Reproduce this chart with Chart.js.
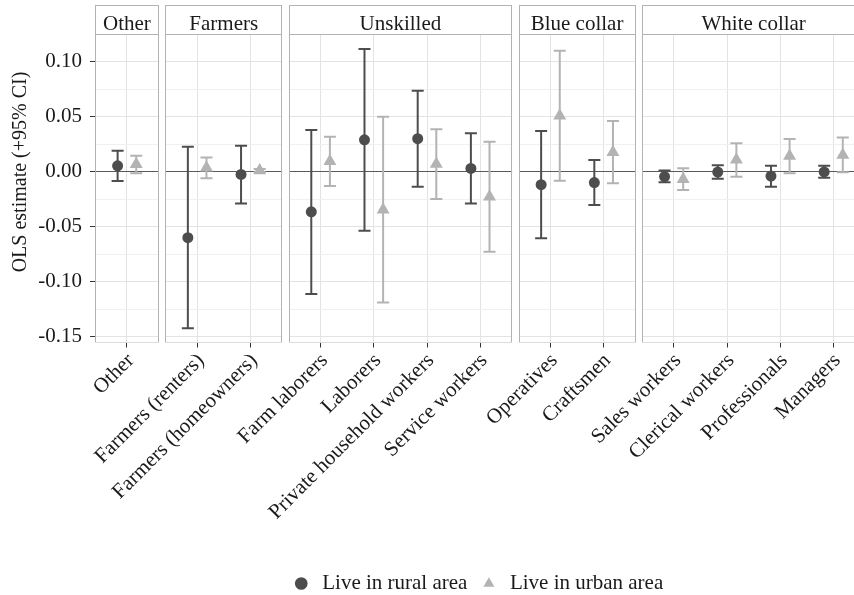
<!DOCTYPE html>
<html>
<head>
<meta charset="utf-8">
<script src="https://cdn.jsdelivr.net/npm/chart.js@4.4.0/dist/chart.umd.min.js"></script>
<style>
  html, body { margin: 0; padding: 0; background: #ffffff; overflow: hidden; }
  #wrap { position: relative; width: 854px; height: 595px; overflow: hidden; background: #ffffff; }
  #wrap canvas { position: absolute; }
</style>
</head>
<body>
<div id="wrap"></div>
<script>
// ---------------- data ----------------
const categories = [
  "Other",
  "Farmers (renters)", "Farmers (homeowners)",
  "Farm laborers", "Laborers", "Private household workers", "Service workers",
  "Operatives", "Craftsmen",
  "Sales workers", "Clerical workers", "Professionals", "Managers"
];
const panels = ["Other", "Farmers", "Unskilled", "Blue collar", "White collar"];
const categoryPanel = [0, 1, 1, 2, 2, 2, 2, 3, 3, 4, 4, 4, 4];
const seriesNames = ["Live in rural area", "Live in urban area"];

const ruralEst  = [0.0053, -0.0600, -0.0025, -0.0365, 0.0290, 0.0300, 0.0030, -0.0118, -0.0099, -0.0044, -0.0003, -0.0040, -0.0002];
const ruralLow  = [-0.0085, -0.1424, -0.0288, -0.1112, -0.0536, -0.0136, -0.0288, -0.0606, -0.0303, -0.0097, -0.0064, -0.0136, -0.0055];
const ruralHigh = [0.0190, 0.0227, 0.0236, 0.0380, 0.1115, 0.0736, 0.0349, 0.0370, 0.0106, 0.0010, 0.0058, 0.0055, 0.0055];

const urbanEst  = [0.0068, 0.0035, 0.0010, 0.0094, -0.0345, 0.0069, -0.0227, 0.0509, 0.0178, -0.0068, 0.0108, 0.0143, 0.0153];
const urbanLow  = [-0.0015, -0.0060, -0.0005, -0.0130, -0.1190, -0.0248, -0.0727, -0.0082, -0.0106, -0.0166, -0.0045, -0.0015, -0.0005];
const urbanHigh = [0.0145, 0.0130, 0.0025, 0.0318, 0.0500, 0.0385, 0.0273, 0.1100, 0.0461, 0.0031, 0.0258, 0.0297, 0.0310];

const yMajorTicks = [-0.15, -0.10, -0.05, 0, 0.05, 0.10];
const yMinorTicks = [-0.125, -0.075, -0.025, 0.025, 0.075];
const yTitle = "OLS estimate (+95% CI)";

// ---------------- layout / style ----------------
const FONT = "'Liberation Serif', 'Times New Roman', serif";
Chart.defaults.font.family = FONT;
Chart.defaults.font.size = 21;
Chart.defaults.color = '#1a1a1a';

const W = 880, H = 595;
const STRIP_TOP = 5, PANEL_TOP = 35, PANEL_BOTTOM = 342.5, PLOT_LEFT = 95;
const UNIT = 53.2, GAP = 6.4, DODGE = 0.175;
const Y_MIN = -0.1553, Y_MAX = 0.1243;
const RURAL_COLOR = '#4d4d4d', URBAN_COLOR = '#b3b3b3';
const TEXT_COLOR = '#1a1a1a', BORDER_COLOR = '#b3b3b3';
const Y_TITLE_X = 21, Y_TITLE_Y = 172;

const panelFrame = {
  id: 'panelFrame',
  afterDraw(chart, args, opts) {
    const { ctx, chartArea: a } = chart;
    const l = Math.round(a.left) + 0.5;
    const r = Math.round(a.right) - 0.5;
    const t = Math.round(a.top) - 0.5;
    const b = Math.round(a.bottom) - 0.5;
    const st = STRIP_TOP + 0.5;
    ctx.save();
    // strip
    ctx.fillStyle = '#ffffff';
    ctx.fillRect(l, st, r - l, t - st);
    ctx.strokeStyle = BORDER_COLOR;
    ctx.lineWidth = 1;
    ctx.strokeRect(l, st, r - l, t - st);
    ctx.fillStyle = TEXT_COLOR;
    ctx.font = "21px " + FONT;
    ctx.textAlign = 'center';
    ctx.textBaseline = 'alphabetic';
    ctx.fillText(opts.label, (a.left + a.right) / 2, a.top - 5.5);
    // panel border
    ctx.beginPath();
    ctx.moveTo(l, t); ctx.lineTo(l, b);
    ctx.moveTo(r, t); ctx.lineTo(r, b);
    ctx.stroke();
    ctx.strokeStyle = '#dcdcdc';
    ctx.beginPath();
    ctx.moveTo(l, b); ctx.lineTo(r, b);
    ctx.stroke();
    // y axis title (first panel only)
    if (opts.yTitle) {
      ctx.translate(Y_TITLE_X, Y_TITLE_Y);
      ctx.rotate(-Math.PI / 2);
      ctx.font = "20px " + FONT;
      ctx.textAlign = 'center';
      ctx.textBaseline = 'middle';
      ctx.fillStyle = TEXT_COLOR;
      ctx.fillText(opts.yTitle, 0, 0);
    }
    ctx.restore();
  }
};

const wrap = document.getElementById('wrap');
let cursor = PLOT_LEFT;

panels.forEach((name, p) => {
  const idx = categories.map((c, i) => i).filter(i => categoryPanel[i] === p);
  const n = idx.length;
  const left = cursor;
  const right = left + (n - 1 + 1.2) * UNIT;
  cursor = right + GAP;
  const first = p === 0;
  const yAxisWidth = first ? PLOT_LEFT : 0;
  const cats = idx.map(i => categories[i]);

  const canvas = document.createElement('canvas');
  canvas.width = W; canvas.height = H;
  canvas.style.left = '0px'; canvas.style.top = '0px';
  canvas.style.width = W + 'px'; canvas.style.height = H + 'px';
  wrap.appendChild(canvas);

  const pts = (est, off) => idx.map((ci, k) => ({ x: k + off, y: est[ci] }));
  const bars = (lo, hi, off) => idx.flatMap((ci, k) => [
    { x: k + off, y: lo[ci] }, { x: k + off, y: hi[ci] }, { x: k + off, y: null }
  ]);

  new Chart(canvas, {
    type: 'scatter',
    data: {
      datasets: [
        { label: seriesNames[0], data: pts(ruralEst, -DODGE), pointStyle: 'circle', pointRadius: 5.5,
          pointBackgroundColor: RURAL_COLOR, pointBorderWidth: 0, order: 0 },
        { label: seriesNames[1], data: pts(urbanEst, DODGE), pointStyle: 'triangle', pointRadius: 7.5,
          pointBackgroundColor: URBAN_COLOR, pointBorderWidth: 0, order: 0 },
        { label: seriesNames[0] + ' CI', data: bars(ruralLow, ruralHigh, -DODGE), showLine: true, spanGaps: false,
          borderColor: RURAL_COLOR, borderWidth: 2, pointStyle: 'line', pointRadius: 6,
          pointBorderColor: RURAL_COLOR, pointBorderWidth: 2, order: 1 },
        { label: seriesNames[1] + ' CI', data: bars(urbanLow, urbanHigh, DODGE), showLine: true, spanGaps: false,
          borderColor: URBAN_COLOR, borderWidth: 2, pointStyle: 'line', pointRadius: 6,
          pointBorderColor: URBAN_COLOR, pointBorderWidth: 2, order: 1 }
      ]
    },
    plugins: [panelFrame],
    options: {
      responsive: false,
      animation: false,
      events: [],
      layout: { padding: { left: left - yAxisWidth, right: W - right, top: PANEL_TOP, bottom: 0 } },
      plugins: {
        legend: { display: false },
        tooltip: { enabled: false },
        panelFrame: { label: name, yTitle: first ? yTitle : null }
      },
      scales: {
        x: {
          type: 'linear',
          min: -0.6,
          max: n - 0.4,
          bounds: 'data',
          afterBuildTicks: s => { s.ticks = cats.map((c, k) => ({ value: k })); },
          afterFit: s => { s.height = H - PANEL_BOTTOM; },
          border: { display: false },
          grid: { color: '#e3e3e3', lineWidth: 1, drawTicks: true, tickLength: 5, tickColor: '#333333', tickWidth: 1 },
          ticks: {
            autoSkip: false, minRotation: 45, maxRotation: 45, padding: 1, labelOffset: 4,
            color: TEXT_COLOR, font: { size: 21 },
            callback: v => cats[Math.round(v)]
          }
        },
        y: {
          min: Y_MIN,
          max: Y_MAX,
          bounds: 'data',
          afterBuildTicks: s => {
            s.ticks = yMajorTicks.concat(yMinorTicks).sort((a, b) => a - b).map(v => ({ value: v }));
          },
          afterFit: s => { s.width = yAxisWidth; },
          border: { display: false },
          grid: {
            drawTicks: first,
            tickLength: 5,
            tickWidth: 1,
            color: c => (c.tick && c.tick.value === 0) ? '#5a5a5a'
              : (c.tick && yMinorTicks.includes(c.tick.value) ? '#f0f0f0' : '#e3e3e3'),
            lineWidth: 1,
            tickColor: c => (c.tick && yMinorTicks.includes(c.tick.value)) ? 'rgba(0,0,0,0)' : '#333333'
          },
          ticks: {
            display: first, autoSkip: false, padding: 8, color: TEXT_COLOR, font: { size: 21 },
            callback: v => yMajorTicks.includes(v) ? v.toFixed(2) : ''
          },
          title: { display: false }
        }
      }
    }
  });
});

// ---------------- legend ----------------
const lc = document.createElement('canvas');
lc.width = 770; lc.height = 120;
lc.style.left = '92px'; lc.style.top = '561.5px';
lc.style.width = '770px'; lc.style.height = '120px';
wrap.appendChild(lc);
new Chart(lc, {
  type: 'scatter',
  data: {
    datasets: [
      { label: seriesNames[0], data: [], pointStyle: 'circle', pointBackgroundColor: RURAL_COLOR,
        backgroundColor: RURAL_COLOR, borderColor: RURAL_COLOR, pointBorderWidth: 0 },
      { label: seriesNames[1], data: [], pointStyle: 'triangle', pointBackgroundColor: URBAN_COLOR,
        backgroundColor: URBAN_COLOR, borderColor: URBAN_COLOR, pointBorderWidth: 0 }
    ]
  },
  options: {
    responsive: false,
    animation: false,
    events: [],
    layout: { padding: 0 },
    scales: { x: { display: false }, y: { display: false } },
    plugins: {
      tooltip: { enabled: false },
      legend: {
        display: true, position: 'top', align: 'center',
        labels: { usePointStyle: true, boxWidth: 21, boxHeight: 9, padding: 11, color: TEXT_COLOR, font: { size: 21 } }
      }
    }
  }
});
</script>
</body>
</html>
